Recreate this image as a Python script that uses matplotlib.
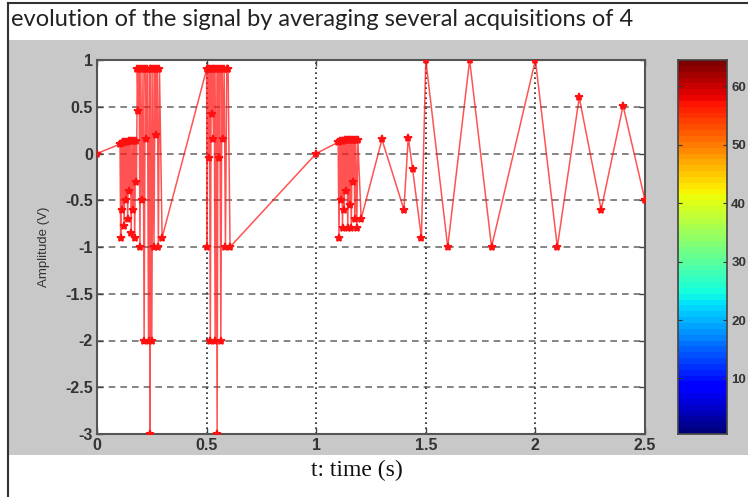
import numpy as np
import matplotlib
matplotlib.use("Agg")
import matplotlib.pyplot as plt
from matplotlib.patches import Rectangle
from matplotlib.lines import Line2D

# --- signal samples (time in s, amplitude in V) ---
burst1_t = [0.000, 0.105, 0.108, 0.112, 0.116, 0.120, 0.124, 0.128, 0.132, 0.136,
            0.140, 0.144, 0.148, 0.152, 0.156, 0.160, 0.164, 0.168, 0.172, 0.176,
            0.180, 0.184, 0.188, 0.192, 0.196, 0.200, 0.205, 0.210, 0.215, 0.220,
            0.225, 0.230, 0.235, 0.240, 0.242, 0.246, 0.250, 0.255, 0.260, 0.265,
            0.270, 0.275, 0.280, 0.285, 0.297]
burst1_v = [0.00, 0.10, -0.90, 0.11, -0.60, 0.12, -0.78, 0.12, -0.50, 0.12,
            -0.70, 0.13, -0.40, 0.13, -0.85, 0.13, -0.60, 0.13, -0.90, 0.13,
            -0.30, 0.90, 0.45, 0.90, -1.00, 0.90, -0.50, 0.90, -2.00, 0.90,
            0.15, 0.90, -2.00, 0.90, -3.00, 0.90, -2.00, 0.90, -1.00, 0.90,
            0.20, 0.90, -1.00, 0.90, -0.90]

burst2_t = [0.500, 0.502, 0.506, 0.509, 0.513, 0.517, 0.521, 0.524, 0.528, 0.531,
            0.535, 0.539, 0.543, 0.548, 0.552, 0.556, 0.560, 0.565, 0.570, 0.575,
            0.580, 0.586, 0.592, 0.598, 0.607]
burst2_v = [0.90, -1.00, 0.90, -0.05, 0.90, -2.00, 0.90, 0.42, 0.90, 0.15,
            0.90, -2.00, 0.90, -3.00, 0.90, -0.05, 0.90, -2.00, 0.90, 0.15,
            0.90, -1.00, 0.90, 0.90, -1.00]

burst3_t = [1.000, 1.100, 1.104, 1.108, 1.112, 1.116, 1.120, 1.124, 1.128, 1.132,
            1.136, 1.140, 1.144, 1.148, 1.152, 1.156, 1.160, 1.164, 1.168, 1.172,
            1.176, 1.180, 1.185, 1.190, 1.205]
burst3_v = [0.00, 0.12, -0.90, 0.13, -0.50, 0.13, -0.80, 0.13, -0.60, 0.14,
            -0.40, 0.14, -0.80, 0.14, -0.55, 0.14, -0.80, 0.14, -0.30, 0.14,
            -0.70, 0.14, -0.80, 0.14, -0.70]

tail_t = [1.30, 1.40, 1.42, 1.44, 1.48, 1.50, 1.60, 1.70, 1.80, 2.00,
          2.10, 2.20, 2.30, 2.40, 2.50]
tail_v = [0.15, -0.60, 0.17, -0.17, -0.90, 1.00, -1.00, 1.00, -1.00, 1.00,
          -1.00, 0.60, -0.60, 0.51, -0.50]

x_ticks = [0, 0.5, 1, 1.5, 2, 2.5]
x_tick_labels = ["0", "0.5", "1", "1.5", "2", "2.5"]
y_ticks = [1, 0.5, 0, -0.5, -1, -1.5, -2, -2.5, -3]
y_tick_labels = ["1", "0.5", "0", "-0.5", "-1", "-1.5", "-2", "-2.5", "-3"]
cbar_ticks = [10, 20, 30, 40, 50, 60]

title_text = "evolution of the signal by averaging several acquisitions of 4"

t = np.concatenate([burst1_t, burst2_t, burst3_t, tail_t])
v = np.concatenate([burst1_v, burst2_v, burst3_v, tail_v])

W, H = 748, 497
fig = plt.figure(figsize=(W / 100, H / 100), dpi=100, facecolor="white")

def fx(px):
    return px / W

def fy(py):
    return 1 - py / H

# grey figure panel and outer frame
fig.patches.append(Rectangle((fx(8), fy(455)), 1 - fx(8), fy(40) - fy(455),
                             transform=fig.transFigure, facecolor="#c8c8c8",
                             edgecolor="none", zorder=-10))
fig.lines.append(Line2D([fx(7.5), fx(7.5)], [fy(3), 0], transform=fig.transFigure,
                        color="#333333", lw=1.5, zorder=-5))
fig.lines.append(Line2D([fx(7.5), 1], [fy(3), fy(3)], transform=fig.transFigure,
                        color="#333333", lw=1.5, zorder=-5))

fig.text(fx(11), fy(20), title_text, fontsize=17, family="Lato",
         color="#222222", va="center", ha="left")

# main axes
ax = fig.add_axes([fx(97), fy(434), fx(645) - fx(97), fy(60) - fy(434)])
ax.set_facecolor("white")
ax.plot(t, v, color="#ff1a1a", lw=1.1, alpha=0.75, zorder=3)
ax.plot(t, v, ls="none", marker="*", ms=6, mew=1.2, color="#ff1010", zorder=4)
ax.set_xlim(0, 2.5)
ax.set_ylim(-3, 1)

for yy in y_ticks:
    ax.axhline(yy, color="#707070", lw=1.2, ls=(0, (4, 3)), zorder=1)
for xx in x_ticks:
    ax.axvline(xx, color="#202020", lw=1.2, ls=(0, (1, 2)), zorder=1)

ax.set_xticks(x_ticks)
ax.set_xticklabels(x_tick_labels)
ax.set_yticks(y_ticks)
ax.set_yticklabels(y_tick_labels)
ax.tick_params(direction="in", length=4, width=1, colors="#444444",
               top=True, right=True, labelsize=11.5)
ax.tick_params(axis="x", pad=3)
ax.tick_params(axis="y", pad=3)
for lab in ax.get_xticklabels() + ax.get_yticklabels():
    lab.set_fontweight("bold")
    lab.set_color("#333333")
    lab.set_family("Liberation Sans")
for sp in ax.spines.values():
    sp.set_color("#555555")
    sp.set_linewidth(1.5)

ax.set_ylabel("Amplitude (V)", fontsize=9.5, family="Liberation Sans",
              color="#333333", labelpad=11)
fig.text(fx(357), fy(470), "t: time (s)", fontsize=17, family="Liberation Serif",
         color="#111111", ha="center", va="center")

# colour bar
cax = fig.add_axes([fx(678), fy(434), fx(727) - fx(678), fy(60) - fy(434)])
cax.imshow(np.arange(1, 65).reshape(-1, 1), cmap="jet", aspect="auto",
           origin="lower", extent=[0, 1, 0.5, 64.5])
cax.set_xticks([])
cax.set_yticks(cbar_ticks)
cax.tick_params(direction="in", length=3, left=True, right=True,
                labelleft=False, labelright=True, labelsize=9.5, colors="#333333", pad=3)
for lab in cax.get_yticklabels():
    lab.set_fontweight("bold")
    lab.set_family("Liberation Sans")
for sp in cax.spines.values():
    sp.set_color("#444444")
    sp.set_linewidth(1.2)

fig.savefig("out.png", dpi=100, facecolor="white")
